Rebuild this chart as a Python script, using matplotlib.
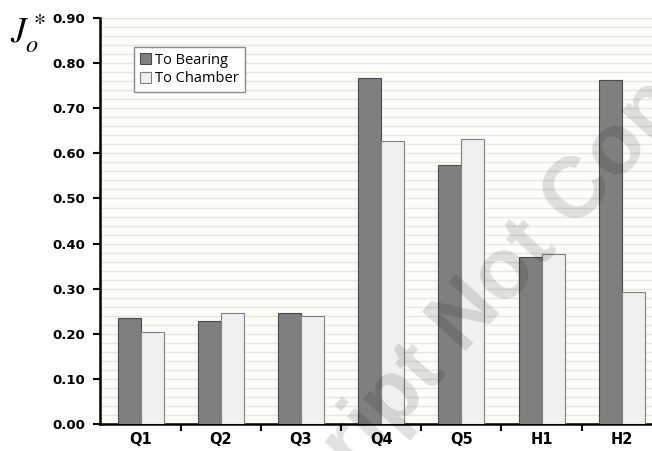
import numpy as np
import matplotlib
matplotlib.use("Agg")
import matplotlib.pyplot as plt
from matplotlib.ticker import MultipleLocator, FixedLocator, FormatStrFormatter

plt.rcParams['mathtext.fontset'] = 'stix'

cases = ["Q1", "Q2", "Q3", "Q4", "Q5", "H1", "H2"]
to_bearing = [0.236, 0.229, 0.245, 0.767, 0.574, 0.370, 0.763]
to_chamber = [0.205, 0.246, 0.239, 0.627, 0.631, 0.377, 0.292]

fig = plt.figure(figsize=(6.52, 4.51), dpi=100)
ax = fig.add_axes([0.1541, 0.0599, 0.861, 0.900])
ax.set_facecolor('#fdfdfa')

x = np.arange(len(cases))
w = 0.287
ax.bar(x - w / 2, to_bearing, w, color='#7f7f7f', edgecolor='#4a4a4a', linewidth=0.8,
       label='To Bearing', zorder=3)
ax.bar(x + w / 2, to_chamber, w, color='#f0f0f0', edgecolor='#808080', linewidth=0.8,
       label='To Chamber', zorder=3)

ax.set_xlim(-0.5, len(cases) - 0.5)
ax.set_ylim(0, 0.9)

# y axis: labelled every 0.1, grid every 0.02
ax.yaxis.set_major_locator(MultipleLocator(0.1))
ax.yaxis.set_minor_locator(MultipleLocator(0.02))
ax.yaxis.set_major_formatter(FormatStrFormatter('%.2f'))
ax.grid(axis='y', which='both', color='#e7e6dc', linewidth=1.0, zorder=0)
ax.tick_params(axis='y', which='major', direction='out', length=5, width=1.5,
               labelsize=9.5, pad=6)
ax.tick_params(axis='y', which='minor', length=0)

# x axis: ticks between categories, labels centred
ax.xaxis.set_major_locator(FixedLocator(np.arange(0.5, len(cases) - 0.5, 1.0)))
ax.xaxis.set_minor_locator(FixedLocator(x))
ax.xaxis.set_major_formatter(plt.NullFormatter())
ax.set_xticks(x, cases, minor=True)
ax.tick_params(axis='x', which='major', direction='out', length=5, width=1.5)
ax.tick_params(axis='x', which='minor', length=0, labelsize=10.5, pad=6)

for lab in ax.get_yticklabels() + ax.get_xticklabels(minor=True):
    lab.set_fontweight('bold')

for s in ['top', 'right']:
    ax.spines[s].set_visible(False)
for s in ['left', 'bottom']:
    ax.spines[s].set_linewidth(1.8)

leg = ax.legend(loc='upper left', bbox_to_anchor=(0.06, 0.929), borderaxespad=0,
                fancybox=False, shadow=False, edgecolor='#8a8a8a', framealpha=1,
                handlelength=0.75, handleheight=0.75, handletextpad=0.3,
                labelspacing=0.25, borderpad=0.4,
                prop={'family': 'Open Sans', 'size': 10.5})
leg.get_frame().set_linewidth(1.0)

fig.text(0.015, 0.925, r'$J_o^*$', fontsize=25, va='center', ha='left')

# diagonal watermark, split at "Not" so it can be anchored there
wm = dict(fontsize=62, fontweight='bold', color='black', alpha=0.12, rotation=48,
          rotation_mode='anchor', va='baseline', family='Liberation Sans', zorder=10)
fig.text(0.710, 0.213, 'Not Copyedited', ha='left', **wm)
fig.text(0.686, 0.173, 'Accepted Manuscript', ha='right', **wm)

fig.savefig('out.png', dpi=100)
